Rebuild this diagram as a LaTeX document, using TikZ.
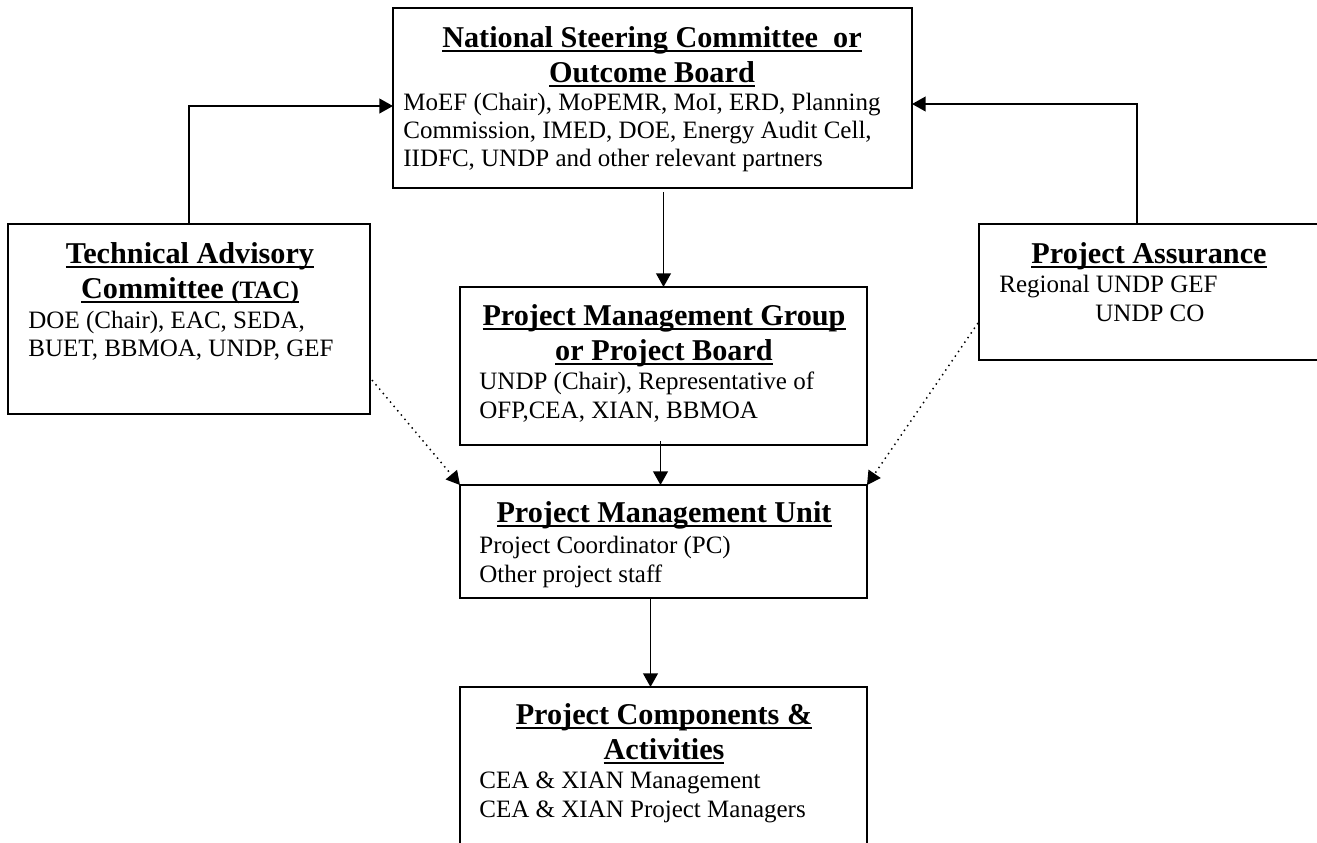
\documentclass[tikz,border=0pt]{standalone}
\usepackage{fontspec}
\setmainfont{Liberation Serif}
\usetikzlibrary{arrows.meta,fit,calc}
\newcommand\myul[1]{\setbox0\hbox{#1}\rlap{\rule[-2.6pt]{\wd0}{1.3pt}}\box0}
\begin{document}
\begin{tikzpicture}[x=0.48pt,y=-0.48pt,
  box/.style={draw,line width=1pt,inner sep=0pt,outer sep=0pt},
  ttl/.style={font=\fontsize{14.5}{17}\selectfont\bfseries,inner sep=0pt,anchor=base},
  bdy/.style={font=\fontsize{12}{13.6}\selectfont,inner sep=0pt,anchor=base west},
  arr/.style={line width=0.9pt,-{Triangle[length=6.5pt,width=7pt]}},
  dotarr/.style={line width=0.7pt,dotted,-{Triangle[length=6.5pt,width=7pt]}}]
\clip (0,0) rectangle (1317,842);
\fill[white] (0,0) rectangle (1317,842);
% boxes
\node[box,fit={(393,8)(912,188)}] (nsc) {};
\node[box,fit={(8,224)(370,414)}] (tac) {};
\node[box,fit={(979,224)(1330,360)}] (pa) {};
\node[box,fit={(460,287)(867,445)}] (pmg) {};
\node[box,fit={(460,485)(867,598)}] (pmu) {};
\node[box,fit={(460,687)(867,880)}] (pca) {};
% NSC text
\node[ttl] (nsct1) at (652,47) {\myul{National Steering Committee~ or}};
\node[ttl] (nsct2) at (652,82) {\myul{Outcome Board}};
\node[bdy] (nscb1) at (403,110) {MoEF (Chair), MoPEMR, MoI, ERD, Planning};
\node[bdy] (nscb2) at (403,138) {Commission, IMED, DOE, Energy Audit Cell,};
\node[bdy] (nscb3) at (403,166) {IIDFC, UNDP and other relevant partners};
% TAC text
\node[ttl] (tact1) at (190,263) {\myul{Technical Advisory}};
\node[ttl] (tact2) at (190,298) {\myul{Committee {\fontsize{12}{14}\selectfont(TAC)}}};
\node[bdy] (tacb1) at (28,328) {DOE (Chair), EAC, SEDA,};
\node[bdy] (tacb2) at (28,356) {BUET, BBMOA, UNDP, GEF};
% PA text
\node[ttl] (pat1) at (1149,263) {\myul{Project Assurance}};
\node[bdy] (pab1) at (999,292) {Regional UNDP GEF};
\node[bdy] (pab2) at (1095,321) {UNDP CO};
% PMG text
\node[ttl] (pmgt1) at (664,325) {\myul{Project Management Group}};
\node[ttl] (pmgt2) at (664,360) {\myul{or Project Board}};
\node[bdy] (pmgb1) at (479,389) {UNDP (Chair), Representative of};
\node[bdy] (pmgb2) at (479,418) {OFP,CEA, XIAN, BBMOA};
% PMU text
\node[ttl] (pmut1) at (664,522) {\myul{Project Management Unit}};
\node[bdy] (pmub1) at (479,553) {Project Coordinator (PC)};
\node[bdy] (pmub2) at (479,582) {Other project staff};
% PCA text
\node[ttl] (pcat1) at (664,724) {\myul{Project Components \&}};
\node[ttl] (pcat2) at (664,759) {\myul{Activities}};
\node[bdy] (pcab1) at (479,788) {CEA \& XIAN Management};
\node[bdy] (pcab2) at (479,817) {CEA \& XIAN Project Managers};
% connectors
\draw[arr] (tac.north) |- ($(nsc.west)+(0,8)$);
\draw[arr] ($(pa.north)+(-17.5,0)$) |- ($(nsc.east)+(0,6)$);
\draw[arr] ($(nsc.south -| pmg.north)+(0,4)$) -- (pmg.north);
\draw[arr] ($(pmg.south)+(-3,-4)$) -- ($(pmu.north)+(-3,0)$);
\draw[arr] ($(pmu.south)+(-13,0)$) -- ($(pca.north)+(-13,0)$);
\draw[dotarr] ($(tac.east)+(2,61)$) -- (pmu.north west);
\draw[dotarr] ($(pa.west)+(-1,31)$) -- (pmu.north east);
\end{tikzpicture}
\end{document}
